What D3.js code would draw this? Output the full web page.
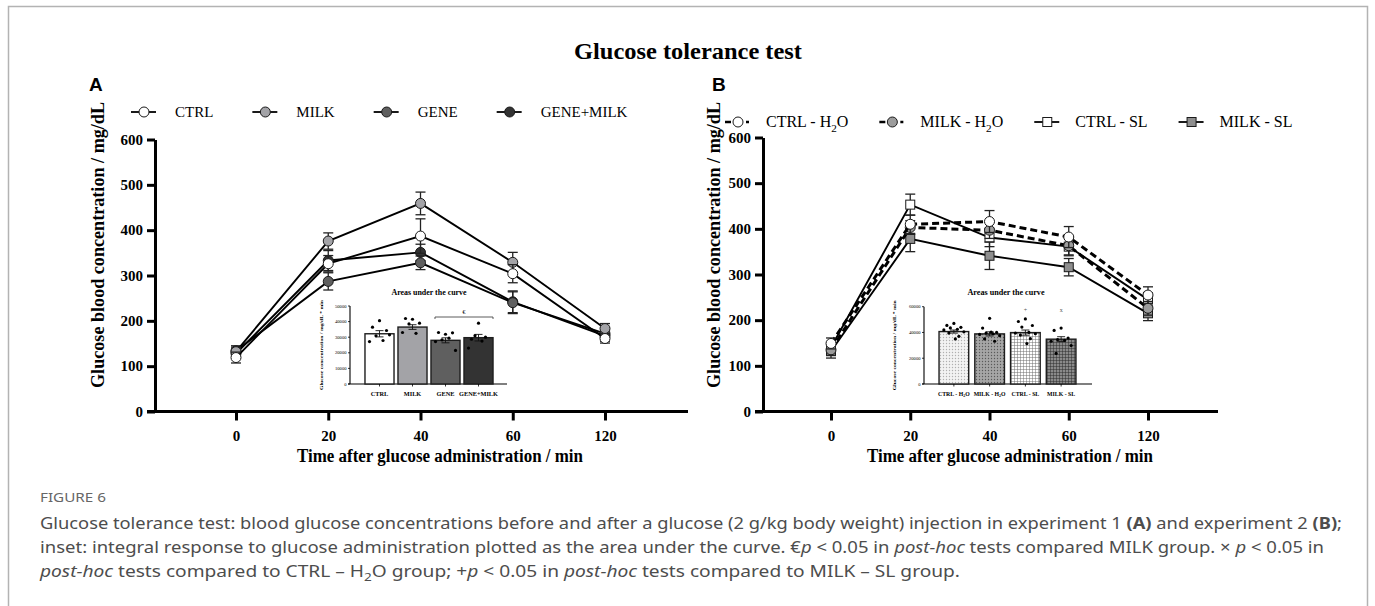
<!DOCTYPE html>
<html>
<head>
<meta charset="utf-8">
<script src="https://cdn.jsdelivr.net/npm/d3@7"></script>
<style>
  body { margin: 0; background: #fff; }
  svg { display: block; }
  text { white-space: pre; }
</style>
</head>
<body>
<svg id="svg" width="1375" height="606"></svg>
<script>
const svg = d3.select('#svg');
const SERIF = "'Liberation Serif', 'DejaVu Serif', serif";
const SANS = "'Liberation Sans', Arial, sans-serif";
const CAPTION = "'Noto Sans', 'Open Sans', sans-serif";

// Time points / axis ticks
const times = ['0', '20', '40', '60', '120'];
const yTicks = [0, 100, 200, 300, 400, 500, 600];

// Experiment 1 (A) - mean and SEM, mg/dL
const groupsA = ['CTRL', 'MILK', 'GENE', 'GENE+MILK'];
const ctrlA = [119, 326, 387, 304, 161];
const milkA = [132, 376, 459, 329, 183];
const geneA = [134, 287, 328, 240, 172];
const geneMilkA = [128, 333, 351, 242, 167];
const ctrlSemA = [12, 18, 38, 20, 10];
const milkSemA = [10, 18, 25, 22, 11];
const geneSemA = [11, 19, 15, 24, 12];
const geneMilkSemA = [10, 22, 18, 24, 12];

// Areas under the curve (A)
const aucA = [32200, 36500, 28000, 29700];
const aucSemA = [2000, 1500, 1600, 2100];
const aucDotsA = [
  [40600, 36400, 34300, 30900, 27900, 27200, 31500],
  [41500, 42000, 39000, 38500, 32500, 33000],
  [31900, 33000, 32800, 28300, 29400, 27200, 21500],
  [39000, 28700, 30000, 31000, 27500, 23000],
];
const aucTicksA = [0, 10000, 20000, 30000, 40000, 50000];

// Experiment 2 (B) - mean and SEM, mg/dL
const groupsB = ['CTRL - H2O', 'MILK - H2O', 'CTRL - SL', 'MILK - SL'];
const ctrlH2oB = [149, 410, 416, 382, 255];
const milkH2oB = [135, 403, 397, 363, 226];
const ctrlSlB = [140, 453, 381, 361, 245];
const milkSlB = [132, 378, 341, 316, 215];
const ctrlH2oSemB = [12, 20, 24, 23, 18];
const milkH2oSemB = [12, 15, 18, 20, 15];
const ctrlSlSemB = [12, 23, 20, 20, 15];
const milkSlSemB = [15, 28, 30, 19, 16];

// Areas under the curve (B)
const aucB = [40700, 38900, 39900, 34800];
const aucSemB = [1200, 1600, 2000, 1900];
const aucDotsB = [
  [47000, 45500, 44000, 43500, 42500, 42000, 40500, 39500, 37000, 35000],
  [51000, 43400, 40000, 39500, 39000, 38500, 37500, 35000, 33200, 40200],
  [50500, 48500, 45400, 44200, 40000, 39500, 39000, 38000, 35200, 31400],
  [43400, 41600, 35700, 34500, 33800, 33200, 29900, 23700],
];
const aucTicksB = [0, 20000, 40000, 60000];
const aucMarksB = ['', '', '+', 'x'];

// Styles
const fillsA = ['#ffffff', '#a3a3a7', '#5f5f5f', '#333333'];
const fillsB = ['#ffffff', '#9c9c9c', '#ffffff', '#8e8e8e'];
const barFillsB = ['url(#dotsLight)', 'url(#dotsDark)', 'url(#gridLight)', 'url(#gridDark)'];

// Patterns for the B inset bars
const defs = svg.append('defs');
function dotPattern(id, bg, fg) {
  const p = defs.append('pattern').attr('id', id).attr('width', 3).attr('height', 3)
    .attr('patternUnits', 'userSpaceOnUse');
  p.append('rect').attr('width', 3).attr('height', 3).attr('fill', bg);
  p.append('circle').attr('cx', 1.5).attr('cy', 1.5).attr('r', 0.7).attr('fill', fg);
}
function gridPattern(id, bg, fg) {
  const p = defs.append('pattern').attr('id', id).attr('width', 3).attr('height', 3)
    .attr('patternUnits', 'userSpaceOnUse');
  p.append('rect').attr('width', 3).attr('height', 3).attr('fill', bg);
  p.append('path').attr('d', 'M0,0.3H3M0.3,0V3').attr('stroke', fg).attr('stroke-width', 0.6);
}
dotPattern('dotsLight', '#f3f3f3', '#b0b0b0');
dotPattern('dotsDark', '#a6a6a6', '#5a5a5a');
gridPattern('gridLight', '#ffffff', '#6a6a6a');
gridPattern('gridDark', '#8a8a8a', '#2a2a2a');

// Frame around the figure
svg.append('path')
  .attr('d', 'M8.5,606V6.5H1367.5V606')
  .attr('fill', 'none').attr('stroke', '#b3b3b3').attr('stroke-width', 1.5);

// Label helper: "H2O" with subscript 2
function subLabel(sel, label, size) {
  const i = label.indexOf('H2O');
  if (i < 0) { sel.text(label); return; }
  sel.append('tspan').text(label.slice(0, i + 1));
  sel.append('tspan').attr('dy', size * 0.3).attr('font-size', size * 0.7).text('2');
  sel.append('tspan').attr('dy', -size * 0.3).text('O' + label.slice(i + 3));
}

// Main title + panel letters
svg.append('text').attr('x', 688).attr('y', 59).attr('text-anchor', 'middle')
  .attr('font-family', SERIF).attr('font-weight', 'bold').attr('font-size', 23)
  .attr('textLength', 228).attr('lengthAdjust', 'spacingAndGlyphs')
  .text('Glucose tolerance test');
svg.append('text').attr('x', 89).attr('y', 91).attr('font-family', SANS)
  .attr('font-weight', 'bold').attr('font-size', 19).text('A');
svg.append('text').attr('x', 712).attr('y', 91).attr('font-family', SANS)
  .attr('font-weight', 'bold').attr('font-size', 19).text('B');

function drawAxes(g, x, y, axisX, axisEnd, labelX, titleX) {
  const ya = g.append('g').attr('transform', `translate(${axisX},0)`)
    .call(d3.axisLeft(y).tickValues(yTicks).tickSize(8).tickSizeOuter(0).tickPadding(4));
  ya.select('.domain').attr('stroke-width', 3);
  ya.selectAll('.tick line').attr('stroke-width', 3);
  ya.selectAll('text').attr('font-family', SERIF).attr('font-weight', 'bold')
    .attr('font-size', 15).attr('fill', '#000');

  g.append('line').attr('x1', axisX - 8).attr('x2', axisEnd)
    .attr('y1', y(0)).attr('y2', y(0)).attr('stroke', '#000').attr('stroke-width', 3);
  const xa = g.append('g').attr('transform', `translate(0,${y(0)})`)
    .call(d3.axisBottom(x).tickSize(9).tickSizeOuter(0));
  xa.select('.domain').remove();
  xa.selectAll('.tick line').attr('stroke-width', 3);
  xa.selectAll('text').attr('y', 29).attr('dy', null).attr('font-family', SERIF)
    .attr('font-weight', 'bold').attr('font-size', 15).attr('fill', '#000');

  g.append('text').attr('transform', `translate(${labelX},245) rotate(-90)`)
    .attr('text-anchor', 'middle').attr('dominant-baseline', 'central')
    .attr('font-family', SERIF).attr('font-weight', 'bold').attr('font-size', 18)
    .attr('textLength', 286).attr('lengthAdjust', 'spacingAndGlyphs')
    .text('Glucose blood concentration / mg/dL');
  g.append('text').attr('x', titleX).attr('y', 462).attr('text-anchor', 'middle')
    .attr('font-family', SERIF).attr('font-weight', 'bold').attr('font-size', 18)
    .attr('textLength', 286).attr('lengthAdjust', 'spacingAndGlyphs')
    .text('Time after glucose administration / min');
}

function drawSeries(g, x, y, s) {
  const line = d3.line().x((d, i) => x(times[i])).y((d) => y(d));
  g.append('path').datum(s.values).attr('d', line).attr('fill', 'none')
    .attr('stroke', '#000').attr('stroke-width', s.dash ? 3 : 1.9)
    .attr('stroke-dasharray', s.dash ? '7,4' : null);

  const pts = s.values.map((v, i) => ({ t: times[i], v, e: s.sem[i] }));
  const eb = g.append('g').attr('stroke', '#222').attr('stroke-width', 1.3);
  eb.selectAll('line.v').data(pts).join('line').attr('class', 'v')
    .attr('x1', (d) => x(d.t)).attr('x2', (d) => x(d.t))
    .attr('y1', (d) => y(d.v - d.e)).attr('y2', (d) => y(d.v + d.e));
  eb.selectAll('line.cap').data(pts.flatMap((d) => [{ t: d.t, v: d.v - d.e }, { t: d.t, v: d.v + d.e }]))
    .join('line').attr('class', 'cap')
    .attr('x1', (d) => x(d.t) - 5).attr('x2', (d) => x(d.t) + 5)
    .attr('y1', (d) => y(d.v)).attr('y2', (d) => y(d.v));

  const mk = g.append('g').attr('fill', s.fill).attr('stroke', '#1a1a1a').attr('stroke-width', 1);
  if (s.shape === 'square') {
    mk.selectAll('rect').data(pts).join('rect')
      .attr('x', (d) => x(d.t) - 4.5).attr('y', (d) => y(d.v) - 4.5)
      .attr('width', 9).attr('height', 9);
  } else {
    mk.selectAll('circle').data(pts).join('circle')
      .attr('cx', (d) => x(d.t)).attr('cy', (d) => y(d.v)).attr('r', 5);
  }
}

function drawLegend(g, series, startX, cy, textOff, gap, size) {
  let cx = startX;
  series.forEach((s) => {
    // dashed series: "-o ." ; solid series: "-o-"
    g.append('line').attr('x1', cx - 13).attr('x2', cx + (s.dash ? 11 : 12)).attr('y1', cy).attr('y2', cy)
      .attr('stroke', '#000').attr('stroke-width', s.dash ? 2.5 : 1.8)
      .attr('stroke-dasharray', s.dash ? '6,15,3' : null);
    if (s.shape === 'square') {
      g.append('rect').attr('x', cx - 4.5).attr('y', cy - 4.5).attr('width', 9).attr('height', 9)
        .attr('fill', s.fill).attr('stroke', '#1a1a1a');
    } else {
      g.append('circle').attr('cx', cx).attr('cy', cy).attr('r', 5)
        .attr('fill', s.fill).attr('stroke', '#1a1a1a');
    }
    const t = g.append('text').attr('x', cx + textOff).attr('y', cy + 5)
      .attr('font-family', SERIF).attr('font-size', size);
    subLabel(t, s.name, size);
    cx += textOff + t.node().getComputedTextLength() + gap;
  });
}

// Inset bar chart (areas under the curve)
function drawInset(g, o) {
  const y = d3.scaleLinear().domain([0, o.max]).range([384, o.top]);
  const x = d3.scaleBand().domain(o.groups).range(o.band).paddingInner(o.pad).paddingOuter(o.pad / 2);
  const bw = x.bandwidth();

  g.append('line').attr('x1', o.axisX).attr('x2', o.axisX).attr('y1', y(0)).attr('y2', y(o.max))
    .attr('stroke', '#000').attr('stroke-width', 1.1);
  g.append('line').attr('x1', o.axisX - 2).attr('x2', o.axisEnd).attr('y1', y(0)).attr('y2', y(0))
    .attr('stroke', '#000').attr('stroke-width', 1.1);
  const yt = g.append('g');
  yt.selectAll('line').data(o.ticks).join('line')
    .attr('x1', o.axisX - 2).attr('x2', o.axisX).attr('y1', (d) => y(d)).attr('y2', (d) => y(d))
    .attr('stroke', '#000').attr('stroke-width', 0.8);
  yt.selectAll('text').data(o.ticks).join('text')
    .attr('x', o.axisX - 3.5).attr('y', (d) => y(d) + 1.6).attr('text-anchor', 'end')
    .attr('font-family', SERIF).attr('font-size', 4.6).text((d) => d);

  g.selectAll('rect.bar').data(o.means).join('rect').attr('class', 'bar')
    .attr('x', (d, i) => x(o.groups[i])).attr('y', (d) => y(d))
    .attr('width', bw).attr('height', (d) => y(0) - y(d))
    .attr('fill', (d, i) => o.fills[i]).attr('stroke', '#1e1e1e').attr('stroke-width', 1.4);

  // SEM whiskers
  const eb = g.append('g').attr('stroke', '#111').attr('stroke-width', 0.9);
  o.means.forEach((m, i) => {
    const cx = x(o.groups[i]) + bw / 2;
    eb.append('line').attr('x1', cx).attr('x2', cx).attr('y1', y(m - o.sems[i])).attr('y2', y(m + o.sems[i]));
    eb.append('line').attr('x1', cx - 4).attr('x2', cx + 4).attr('y1', y(m + o.sems[i])).attr('y2', y(m + o.sems[i]));
    eb.append('line').attr('x1', cx - 4).attr('x2', cx + 4).attr('y1', y(m - o.sems[i])).attr('y2', y(m - o.sems[i]));
  });

  // individual animals
  const jit = [0, -7, 7, -3.5, 3.5, -10, 10, -5, 5, 1.5];
  o.dots.forEach((vals, i) => {
    const cx = x(o.groups[i]) + bw / 2;
    g.append('g').selectAll('circle').data(vals).join('circle')
      .attr('cx', (d, j) => cx + jit[j % jit.length]).attr('cy', (d) => y(d))
      .attr('r', 1.6).attr('fill', '#000');
  });

  // x ticks + labels
  o.groups.forEach((name, i) => {
    const cx = x(name) + bw / 2;
    g.append('line').attr('x1', cx).attr('x2', cx).attr('y1', y(0)).attr('y2', y(0) + 2.5)
      .attr('stroke', '#000').attr('stroke-width', 0.8);
    const t = g.append('text').attr('x', cx).attr('y', 395.5).attr('text-anchor', 'middle')
      .attr('font-family', SERIF).attr('font-weight', 'bold').attr('font-size', o.labelSize);
    subLabel(t, name, o.labelSize);
  });

  g.append('text').attr('x', o.titleX).attr('y', 294.5).attr('text-anchor', 'middle')
    .attr('font-family', SERIF).attr('font-weight', 'bold').attr('font-size', 8)
    .attr('textLength', o.titleW).attr('lengthAdjust', 'spacingAndGlyphs')
    .text('Areas under the curve');
  g.append('text').attr('transform', `translate(${o.labelX},${(y(0) + y(o.max)) / 2}) rotate(-90)`)
    .attr('text-anchor', 'middle').attr('dominant-baseline', 'central')
    .attr('font-family', SERIF).attr('font-weight', 'bold').attr('font-size', 5)
    .attr('textLength', 90).attr('lengthAdjust', 'spacingAndGlyphs')
    .text('Glucose concentration / mg/dL * min');
  return { x, y, bw };
}

// ---------- Panel A ----------
const gA = svg.append('g');
const xA = d3.scalePoint().domain(times).range([236, 605]);
const yA = d3.scaleLinear().domain([0, 600]).range([411.5, 139.5]);
drawAxes(gA, xA, yA, 155, 688, 98, 440);

const seriesA = [
  { name: groupsA[0], values: ctrlA, sem: ctrlSemA, fill: fillsA[0] },
  { name: groupsA[1], values: milkA, sem: milkSemA, fill: fillsA[1] },
  { name: groupsA[2], values: geneA, sem: geneSemA, fill: fillsA[2] },
  { name: groupsA[3], values: geneMilkA, sem: geneMilkSemA, fill: fillsA[3] },
];
[3, 2, 1, 0].forEach((i) => drawSeries(gA.append('g'), xA, yA, seriesA[i]));
drawLegend(gA.append('g'), seriesA, 144, 112, 31, 52, 15);

const insA = drawInset(gA.append('g'), {
  groups: groupsA, means: aucA, sems: aucSemA, dots: aucDotsA, ticks: aucTicksA,
  max: 50000, top: 306, band: [363, 495], pad: 0.12, axisX: 350, axisEnd: 507,
  fills: fillsA, titleX: 429, titleW: 75, labelX: 321, labelSize: 6.3,
});
// significance bracket (GENE vs GENE+MILK)
const bx1 = insA.x(groupsA[2]) + 4;
const bx2 = insA.x(groupsA[3]) + insA.bw;
gA.append('path').attr('d', `M${bx1},319V317H${bx2}V319`).attr('fill', 'none')
  .attr('stroke', '#333').attr('stroke-width', 0.8);
gA.append('text').attr('x', (bx1 + bx2) / 2).attr('y', 314).attr('text-anchor', 'middle')
  .attr('font-family', SERIF).attr('font-size', 6).text('€');

// ---------- Panel B ----------
const gB = svg.append('g');
const xB = d3.scalePoint().domain(times).range([831, 1148]);
const yB = d3.scaleLinear().domain([0, 600]).range([411.5, 137.5]);
drawAxes(gB, xB, yB, 763, 1218, 714, 1010);

const seriesB = [
  { name: groupsB[0], values: ctrlH2oB, sem: ctrlH2oSemB, fill: fillsB[0], dash: true },
  { name: groupsB[1], values: milkH2oB, sem: milkH2oSemB, fill: fillsB[1], dash: true },
  { name: groupsB[2], values: ctrlSlB, sem: ctrlSlSemB, fill: fillsB[2], shape: 'square' },
  { name: groupsB[3], values: milkSlB, sem: milkSlSemB, fill: fillsB[3], shape: 'square' },
];
[2, 3, 1, 0].forEach((i) => drawSeries(gB.append('g'), xB, yB, seriesB[i]));
drawLegend(gB.append('g'), seriesB, 738, 122, 28, 44, 16);

const insB = drawInset(gB.append('g'), {
  groups: groupsB, means: aucB, sems: aucSemB, dots: aucDotsB, ticks: aucTicksB,
  max: 60000, top: 306.7, band: [936, 1079], pad: 0.17, axisX: 924, axisEnd: 1092,
  fills: barFillsB, titleX: 1006, titleW: 77, labelX: 894, labelSize: 5.8,
});
gB.append('g').selectAll('text').data(aucMarksB).join('text')
  .attr('x', (d, i) => insB.x(groupsB[i]) + insB.bw / 2).attr('y', 312)
  .attr('text-anchor', 'middle').attr('font-family', SERIF).attr('font-size', 6)
  .attr('fill', '#555').text((d) => d);

// ---------- Caption ----------
const cap = svg.append('g').attr('font-family', CAPTION).attr('fill', '#4d4d4d');
cap.append('text').attr('x', 40).attr('y', 502).attr('font-size', 12.5).attr('fill', '#666')
  .attr('textLength', 66).attr('lengthAdjust', 'spacingAndGlyphs').text('FIGURE 6');

const capLines = [
  { y: 529, w: 1302, parts: [
    ['Glucose tolerance test: blood glucose concentrations before and after a glucose (2 g/kg body weight) injection in experiment 1 '],
    ['(A)', 'b'], [' and experiment 2 '], ['(B)', 'b'], [';']] },
  { y: 553, w: 1284, parts: [
    ['inset: integral response to glucose administration plotted as the area under the curve. €'],
    ['p', 'i'], [' < 0.05 in '], ['post-hoc', 'i'], [' tests compared MILK group. × '], ['p', 'i'], [' < 0.05 in']] },
  { y: 577, w: 920, parts: [
    ['post-hoc', 'i'], [' tests compared to CTRL – H'], ['2', 'sub'], ['O group; +'], ['p', 'i'],
    [' < 0.05 in '], ['post-hoc', 'i'], [' tests compared to MILK – SL group.']] },
];
capLines.forEach((ln) => {
  const t = cap.append('text').attr('x', 40).attr('y', ln.y).attr('font-size', 15.5)
    .attr('textLength', ln.w).attr('lengthAdjust', 'spacingAndGlyphs');
  let shifted = false;
  ln.parts.forEach(([str, st]) => {
    const ts = t.append('tspan').text(str);
    if (st === 'b') ts.attr('font-weight', 'bold');
    if (st === 'i') ts.attr('font-style', 'italic');
    if (st === 'sub') { ts.attr('dy', 4).attr('font-size', 11); shifted = true; }
    else if (shifted) { ts.attr('dy', -4); shifted = false; }
  });
});
</script>
</body>
</html>
